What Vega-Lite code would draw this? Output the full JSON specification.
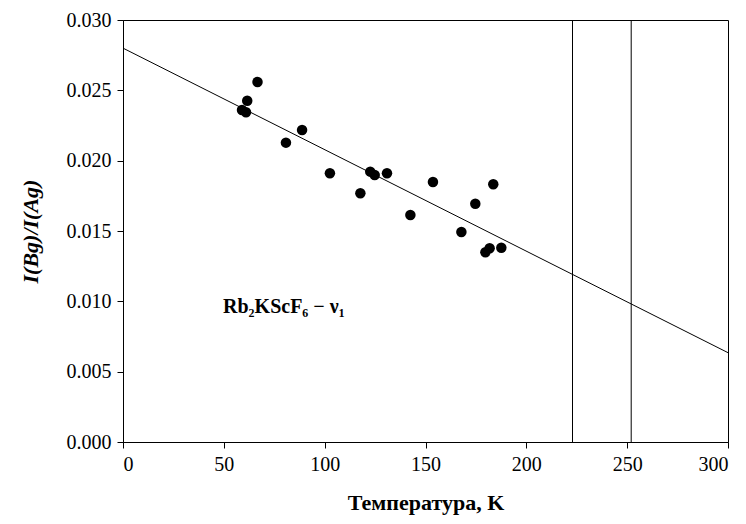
{
  "$schema": "https://vega.github.io/schema/vega-lite/v6.json",
  "autosize": "none",
  "width": 605,
  "height": 422,
  "padding": {"left": 123, "top": 20, "right": 18, "bottom": 82},
  "background": "white",
  "config": {
    "view": {"stroke": "#000000", "strokeWidth": 1},
    "font": "Liberation Serif",
    "axis": {
      "grid": false,
      "domainColor": "#000000",
      "tickColor": "#000000",
      "labelColor": "#000000",
      "titleColor": "#000000",
      "labelFont": "Liberation Serif",
      "titleFont": "Liberation Serif",
      "labelFontSize": 20,
      "titleFontSize": 22,
      "titleFontWeight": "bold",
      "tickSize": 6,
      "labelPadding": 6
    }
  },
  "datasets": {
    "points": [
      {"T": 66.7, "R": 0.02559},
      {"T": 61.6, "R": 0.02426},
      {"T": 59.0, "R": 0.02360},
      {"T": 61.0, "R": 0.02344},
      {"T": 88.8, "R": 0.02218},
      {"T": 80.8, "R": 0.02128},
      {"T": 102.6, "R": 0.01910},
      {"T": 117.7, "R": 0.01768},
      {"T": 122.6, "R": 0.01922},
      {"T": 124.8, "R": 0.01898},
      {"T": 130.9, "R": 0.01910},
      {"T": 142.5, "R": 0.01614},
      {"T": 153.7, "R": 0.01848},
      {"T": 167.8, "R": 0.01493},
      {"T": 174.7, "R": 0.01694},
      {"T": 183.6, "R": 0.01832},
      {"T": 187.6, "R": 0.01381},
      {"T": 179.7, "R": 0.01349},
      {"T": 181.8, "R": 0.01377}
    ],
    "fit": [
      {"T": 0, "R": 0.0280},
      {"T": 300, "R": 0.00635}
    ],
    "vlines": [
      {"T": 222.9},
      {"T": 252.0}
    ],
    "label": [
      {"T": 49.6, "R": 0.00917, "text": "Rb₂KScF₆ − ν₁"}
    ]
  },
  "layer": [
    {
      "data": {"name": "fit"},
      "mark": {"type": "line", "color": "#000000", "strokeWidth": 1},
      "encoding": {
        "x": {"field": "T", "type": "quantitative", "scale": {"domain": [0, 300], "nice": false},
              "axis": {"title": "Температура, K", "values": [0, 50, 100, 150, 200, 250, 300], "titlePadding": 18, "labelFont": "Liberation Serif", "titleFont": "Liberation Serif"}},
        "y": {"field": "R", "type": "quantitative", "scale": {"domain": [0, 0.03], "nice": false},
              "axis": {"title": "I(Bg)/I(Ag)", "values": [0, 0.005, 0.01, 0.015, 0.02, 0.025, 0.03], "format": ".3f", "titleFontStyle": "italic", "titlePadding": 24, "labelFont": "Liberation Serif", "titleFont": "Liberation Serif"}}
      }
    },
    {
      "data": {"name": "vlines"},
      "mark": {"type": "rule", "color": "#000000", "strokeWidth": 1},
      "encoding": {
        "x": {"field": "T", "type": "quantitative"}
      }
    },
    {
      "data": {"name": "points"},
      "mark": {"type": "point", "filled": true, "shape": "circle", "size": 110, "color": "#000000", "opacity": 1},
      "encoding": {
        "x": {"field": "T", "type": "quantitative"},
        "y": {"field": "R", "type": "quantitative"}
      }
    },
    {
      "data": {"name": "label"},
      "mark": {"type": "text", "align": "left", "baseline": "alphabetic", "font": "Liberation Serif", "fontSize": 20, "fontWeight": "bold", "color": "#000000"},
      "encoding": {
        "x": {"field": "T", "type": "quantitative"},
        "y": {"field": "R", "type": "quantitative"},
        "text": {"field": "text"}
      }
    }
  ]
}
